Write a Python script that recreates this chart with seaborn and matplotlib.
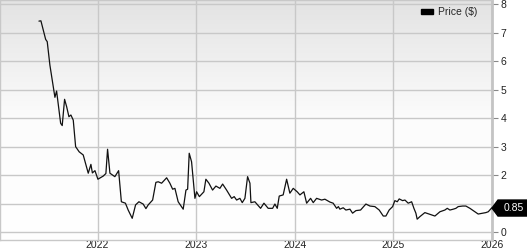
import numpy as np
import pandas as pd
import matplotlib
matplotlib.use("Agg")
import matplotlib.pyplot as plt
import matplotlib.transforms as mtransforms
from matplotlib.patches import Patch, Polygon
from matplotlib.colors import LinearSegmentedColormap
import seaborn as sns

# ---- data (decimal year, price in $) ----
years = [
    2021.405, 2021.425, 2021.473, 2021.489, 2021.516, 2021.567, 2021.584, 2021.625, 2021.641, 2021.665,
    2021.686, 2021.709, 2021.729, 2021.753, 2021.777, 2021.813, 2021.854, 2021.905, 2021.932, 2021.947,
    2021.973, 2022.003, 2022.057, 2022.084, 2022.101, 2022.125, 2022.175, 2022.213, 2022.241, 2022.282,
    2022.310, 2022.351, 2022.385, 2022.419, 2022.462, 2022.490, 2022.513, 2022.558, 2022.591, 2022.615,
    2022.649, 2022.700, 2022.733, 2022.761, 2022.784, 2022.817, 2022.868, 2022.896, 2022.913, 2022.929,
    2022.953, 2022.987, 2023.004, 2023.032, 2023.078, 2023.098, 2023.129, 2023.166, 2023.200, 2023.240,
    2023.268, 2023.308, 2023.359, 2023.385, 2023.410, 2023.443, 2023.467, 2023.494, 2023.521, 2023.545,
    2023.555, 2023.595, 2023.653, 2023.687, 2023.730, 2023.775, 2023.798, 2023.822, 2023.842, 2023.882,
    2023.917, 2023.950, 2023.984, 2024.024, 2024.052, 2024.092, 2024.120, 2024.160, 2024.187, 2024.221,
    2024.272, 2024.305, 2024.356, 2024.389, 2024.424, 2024.442, 2024.457, 2024.491, 2024.518, 2024.559,
    2024.586, 2024.620, 2024.667, 2024.721, 2024.762, 2024.812, 2024.856, 2024.897, 2024.924, 2024.957,
    2024.992, 2025.015, 2025.039, 2025.059, 2025.093, 2025.117, 2025.150, 2025.185, 2025.208, 2025.228,
    2025.241, 2025.269, 2025.319, 2025.370, 2025.421, 2025.472, 2025.522, 2025.546, 2025.573, 2025.607,
    2025.634, 2025.657, 2025.702, 2025.735, 2025.776, 2025.826, 2025.860, 2025.905, 2025.938, 2025.962,
    2025.996,
]
prices = [
    7.40, 7.41, 6.76, 6.68, 5.86, 4.73, 4.95, 3.82, 3.74, 4.66,
    4.40, 4.05, 4.11, 3.93, 3.00, 2.82, 2.71, 2.07, 2.38, 2.08,
    2.16, 1.86, 1.97, 2.06, 2.91, 2.07, 1.95, 2.16, 1.07, 1.02,
    0.78, 0.49, 0.96, 1.07, 0.99, 0.83, 0.96, 1.13, 1.75, 1.77,
    1.72, 1.91, 1.72, 1.51, 1.54, 1.07, 0.81, 1.48, 1.51, 2.77,
    2.47, 1.19, 1.42, 1.25, 1.42, 1.86, 1.72, 1.48, 1.62, 1.54,
    1.69, 1.48, 1.19, 1.25, 1.13, 1.19, 1.04, 1.19, 1.95, 1.72,
    1.04, 1.07, 0.84, 1.02, 0.84, 0.84, 0.99, 0.84, 1.27, 1.31,
    1.86, 1.37, 1.54, 1.42, 1.31, 1.42, 1.02, 1.19, 1.04, 1.19,
    1.13, 1.16, 1.06, 1.02, 0.84, 0.90, 0.81, 0.86, 0.78, 0.81,
    0.67, 0.76, 0.78, 0.99, 0.92, 0.90, 0.78, 0.57, 0.57, 0.78,
    0.90, 1.11, 1.07, 1.17, 1.11, 1.13, 1.02, 1.07, 0.84, 0.67,
    0.46, 0.55, 0.69, 0.63, 0.57, 0.72, 0.78, 0.84, 0.78, 0.81,
    0.84, 0.90, 0.92, 0.92, 0.84, 0.72, 0.64, 0.67, 0.69, 0.72,
    0.85,
]
year_ticks = [2022, 2023, 2024, 2025, 2026]
price_ticks = [0, 1, 2, 3, 4, 5, 6, 7, 8]
price_tick_labels = ["0", "", "2", "3", "4", "5", "6", "7", "8"]  # "1" is hidden behind the last-value tag
last_label = "0.85"
series_name = "Price ($)"

df = pd.DataFrame({"year": years, "price": prices})

sns.set_style("white")
plt.rcParams["font.family"] = ["Liberation Sans", "DejaVu Sans"]

fig = plt.figure(figsize=(5.27, 2.5), dpi=100)
ax = fig.add_axes([0.0, 0.04, 492 / 527, 0.96])

# gradient background
cmap = LinearSegmentedColormap.from_list("bg", [(0.0, "#ffffff"), (0.5, "#fcfcfc"), (1.0, "#e3e3e3")])
grad = np.linspace(0, 1, 256).reshape(-1, 1)
ax.imshow(grad, extent=[0, 1, 0, 1], transform=ax.transAxes, cmap=cmap,
          aspect="auto", origin="lower", zorder=0, interpolation="bilinear")

sns.lineplot(data=df, x="year", y="price", ax=ax, color="#111111", lw=0.9, zorder=3)

ax.set_xlim(2021.01, 2026.0)
ax.set_ylim(-0.27, 8.14)
ax.set_xticks(year_ticks)
ax.set_yticks(price_ticks)
ax.set_yticklabels(price_tick_labels)
ax.set_xticklabels([str(y) for y in year_ticks])
ax.yaxis.tick_right()
ax.grid(True, color="#c8c8c8", lw=1.0, zorder=1)
ax.set_axisbelow(True)
ax.set_xlabel("")
ax.set_ylabel("")

for side in ["left", "top", "bottom"]:
    ax.spines[side].set_visible(True)
    ax.spines[side].set_color("#c8c8c8")
    ax.spines[side].set_linewidth(1.0)
ax.spines["right"].set_color("#c4c4c4")
ax.spines["right"].set_linewidth(2.0)

ax.tick_params(axis="y", which="both", right=True, left=False, length=4, width=0.8,
               color="#888888", pad=2, labelsize=7.5, labelcolor="#222222")
ax.tick_params(axis="x", which="both", bottom=False, length=0, pad=0.3,
               labelsize=7.5, labelcolor="#222222")

# legend
handle = Patch(facecolor="black", edgecolor="black", label=series_name)
leg = ax.legend(handles=[handle], loc="upper right", frameon=False, fontsize=7.5,
                handlelength=1.1, handleheight=0.45, handletextpad=0.5,
                bbox_to_anchor=(0.985, 1.0), borderaxespad=0.3)

# last value label
blend = mtransforms.blended_transform_factory(ax.transAxes, ax.transData)
anchor = mtransforms.ScaledTranslation(1.0, prices[-1], blend)
poly = Polygon([(0, 0), (6, 8), (36, 8), (36, -8), (6, -8)], closed=True,
               facecolor="black", edgecolor="black", transform=mtransforms.Affine2D() + anchor,
               clip_on=False, zorder=5)
ax.add_patch(poly)
ax.text(1.0, prices[-1], last_label,
        transform=blend + mtransforms.ScaledTranslation(12 / 100, 0, fig.dpi_scale_trans),
        color="white", fontsize=7.5, va="center", ha="left", zorder=6, clip_on=False)

fig.savefig("out.png", dpi=100)
